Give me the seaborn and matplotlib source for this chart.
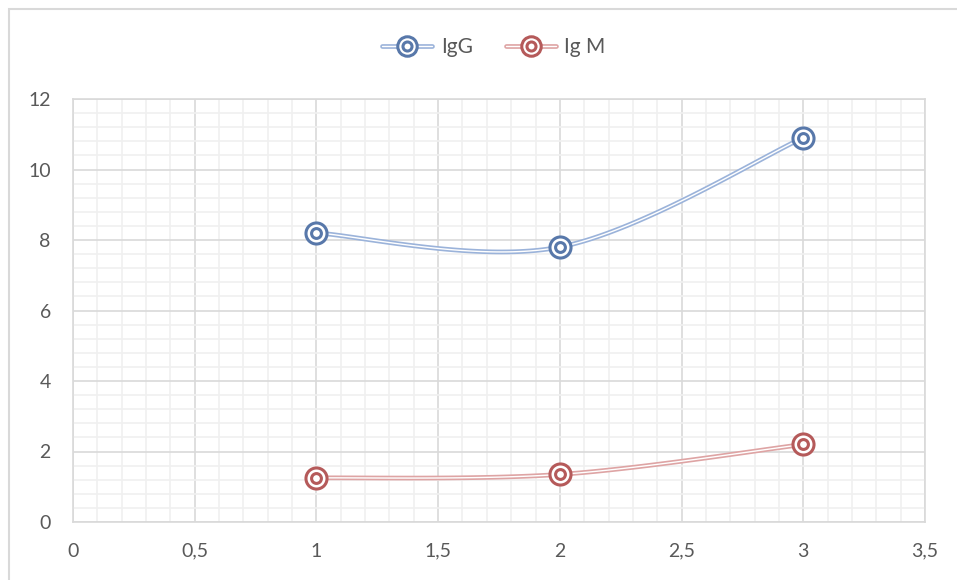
import numpy as np
import matplotlib
matplotlib.use("Agg")
import matplotlib.pyplot as plt
from matplotlib.lines import Line2D
from matplotlib.legend_handler import HandlerTuple
from matplotlib.patches import Rectangle
import seaborn as sns

# Data
x_vals = [1, 2, 3]
igg = [8.2, 7.8, 10.9]
igm = [1.25, 1.35, 2.2]
series_names = ["IgG", "Ig M"]
x_ticks = [0, 0.5, 1, 1.5, 2, 2.5, 3, 3.5]
x_tick_labels = ["0", "0,5", "1", "1,5", "2", "2,5", "3", "3,5"]
y_ticks = [0, 2, 4, 6, 8, 10, 12]

sns.set_theme(style="white")
plt.rcParams["font.family"] = ["Lato", "DejaVu Sans"]


def smooth_curve(xs, ys, n=60):
    """Bezier smoothing through the points (Office-style smoothed line)."""
    pts = np.column_stack([xs, ys]).astype(float)
    out = []
    for i in range(len(pts) - 1):
        p0 = pts[i - 1] if i > 0 else pts[i]
        p1 = pts[i]
        p2 = pts[i + 1]
        p3 = pts[i + 2] if i + 2 < len(pts) else pts[i + 1]
        c1 = p1 + (p2 - p0) / 6.0
        c2 = p2 - (p3 - p1) / 6.0
        t = np.linspace(0, 1, n)[:, None]
        seg = ((1 - t) ** 3) * p1 + 3 * ((1 - t) ** 2) * t * c1 + 3 * (1 - t) * t ** 2 * c2 + t ** 3 * p2
        out.append(seg if i == 0 else seg[1:])
    seg = np.vstack(out)
    return seg[:, 0], seg[:, 1]


fig = plt.figure(figsize=(9.57, 5.8), dpi=100)
ax = fig.add_axes([73 / 957, 1 - 522 / 580, (925 - 73) / 957, (522 - 99) / 580])

# chart outer border
fig.patches.append(Rectangle((9 / 957, -0.05), 1.2, 1 - 9 / 580 + 0.05,
                             transform=fig.transFigure, fill=False,
                             edgecolor="#d9d9d9", linewidth=1.5, zorder=0))

ax.set_xlim(0, 3.5)
ax.set_ylim(0, 12)
ax.set_xticks(x_ticks)
ax.set_xticklabels(x_tick_labels)
ax.set_yticks(y_ticks)
ax.set_xticks(np.arange(0, 3.5001, 0.1), minor=True)
ax.set_yticks(np.arange(0, 12.001, 0.4), minor=True)
ax.grid(which="minor", color="#f0f0f0", linewidth=1.2, zorder=0)
ax.grid(which="major", color="#d9d9d9", linewidth=1.2, zorder=0.5)
ax.set_axisbelow(True)
for s in ax.spines.values():
    s.set_color("#d9d9d9")
    s.set_linewidth(1.2)
ax.tick_params(which="both", length=0, labelsize=14, colors="#595959")
ax.tick_params(axis="y", pad=16)
ax.tick_params(axis="x", pad=15)

styles = [
    dict(line="#9bb3da", marker="#5878aa"),
    dict(line="#dea4a4", marker="#b55a5a"),
]

handles = []
for ys, name, st in zip([igg, igm], series_names, styles):
    cx, cy = smooth_curve(x_vals, ys)
    ax.plot(cx, cy, color=st["line"], lw=3.4, solid_capstyle="butt", zorder=3)
    ax.plot(cx, cy, color="white", lw=1.0, solid_capstyle="butt", zorder=3.1)
    sns.scatterplot(x=x_vals, y=ys, ax=ax, s=230, marker="o", facecolor="white",
                    edgecolor=st["marker"], linewidth=2.2, zorder=4, legend=False)
    sns.scatterplot(x=x_vals, y=ys, ax=ax, s=50, marker="o", facecolor="white",
                    edgecolor=st["marker"], linewidth=2.2, zorder=5, legend=False)
    h = (Line2D([], [], color=st["line"], lw=3.4),
         Line2D([], [], color="white", lw=1.0),
         Line2D([], [], ls="none", marker="o", markersize=14, markerfacecolor="white",
                markeredgecolor=st["marker"], markeredgewidth=2.2),
         Line2D([], [], ls="none", marker="o", markersize=6.5, markerfacecolor="white",
                markeredgecolor=st["marker"], markeredgewidth=2.2))
    handles.append(h)

ax.set_xlabel("")
ax.set_ylabel("")

leg = fig.legend(handles, series_names, loc="center", bbox_to_anchor=(494 / 957, 1 - 47 / 580),
                 ncol=2, frameon=False, fontsize=15, handlelength=2.4, columnspacing=1.6,
                 handletextpad=0.4, handler_map={tuple: HandlerTuple(ndivide=1, pad=0)})
for t in leg.get_texts():
    t.set_color("#595959")

fig.savefig("out.png", dpi=100)
